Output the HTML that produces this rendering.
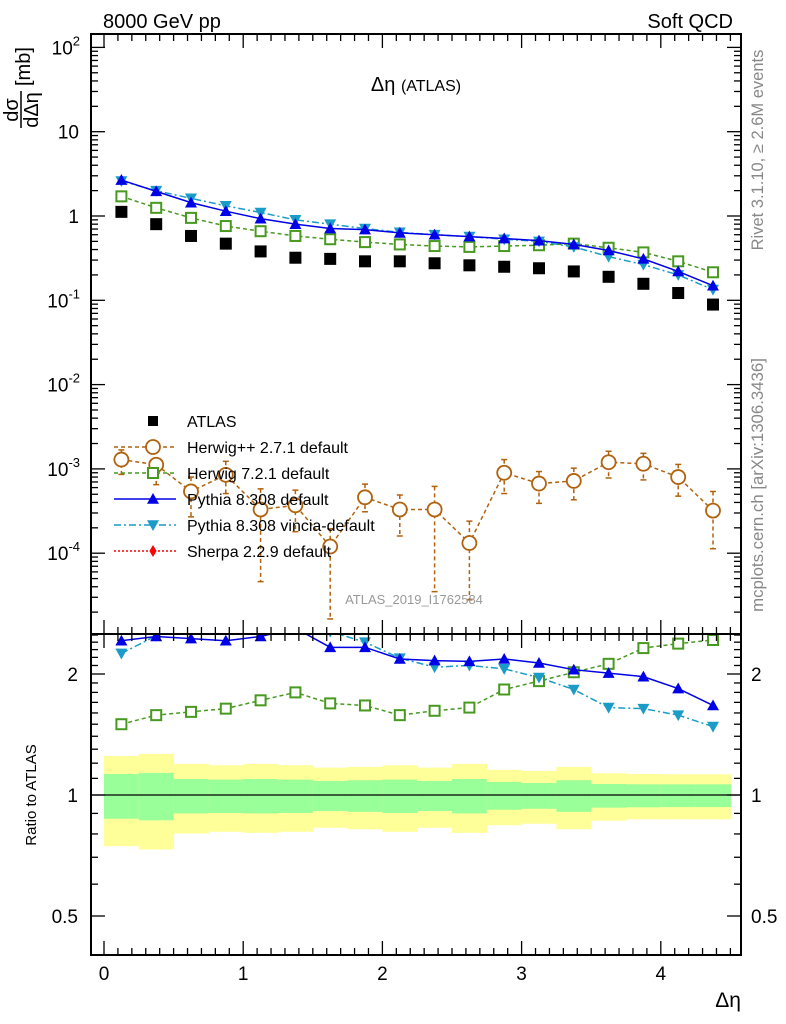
<!DOCTYPE html>
<html><head><meta charset="utf-8"><style>
html,body{margin:0;padding:0;background:#fff;}
svg{display:block;font-family:"Liberation Sans",sans-serif;}
</style></head><body>
<svg id="chart" width="786" height="1024" viewBox="0 0 786 1024" xmlns="http://www.w3.org/2000/svg">
<g id="bands"></g>
<g id="marks"></g>
<g id="axes"></g>
<text x="103" y="28" font-size="20">8000 GeV pp</text>
<text x="733" y="28" font-size="20" text-anchor="end">Soft QCD</text>
<text x="416" y="91" font-size="20" text-anchor="middle">Δη <tspan font-size="16">(ATLAS)</tspan></text>
<text x="414" y="604" font-size="13" fill="#999" text-anchor="middle">ATLAS_2019_I1762584</text>
<text transform="translate(763,150) rotate(-90)" font-size="16.5" fill="#888" text-anchor="middle">Rivet 3.1.10, ≥ 2.6M events</text>
<text transform="translate(763,485) rotate(-90)" font-size="16.8" fill="#888" text-anchor="middle">mcplots.cern.ch [arXiv:1306.3436]</text>
<g transform="translate(21,0) rotate(-90)">
<text x="-110" y="-3" font-size="20" text-anchor="middle">dσ</text>
<line x1="-128" x2="-91" y1="0" y2="0" stroke="#000" stroke-width="1.5"/>
<text x="-110" y="17" font-size="20" text-anchor="middle">dΔη</text>
<text x="-86" y="9" font-size="20">[mb]</text>
</g>
<text transform="translate(36,795) rotate(-90)" font-size="15" text-anchor="middle">Ratio to ATLAS</text>
<text x="741" y="1007" font-size="21" text-anchor="end">Δη</text>
<g id="legend"></g>
</svg>
<script>
const binCenters=[0.125,0.375,0.625,0.875,1.125,1.375,1.625,1.875,2.125,2.375,2.625,2.875,3.125,3.375,3.625,3.875,4.125,4.375];
const atlas=[1.12,0.80,0.58,0.47,0.38,0.32,0.31,0.29,0.29,0.275,0.26,0.25,0.24,0.22,0.19,0.157,0.122,0.089];
const pythia=[2.67,1.96,1.44,1.14,0.93,0.80,0.71,0.69,0.63,0.60,0.57,0.54,0.51,0.46,0.39,0.31,0.22,0.149];
const vincia=[2.6,2.0,1.62,1.32,1.10,0.90,0.80,0.71,0.64,0.60,0.57,0.53,0.50,0.43,0.33,0.265,0.20,0.134];
const herwig7=[1.71,1.25,0.95,0.76,0.66,0.58,0.53,0.49,0.46,0.44,0.43,0.44,0.45,0.47,0.42,0.37,0.29,0.215];
const herwigpp=[1.29e-3,1.12e-3,5.4e-4,8.5e-4,3.3e-4,3.7e-4,1.2e-4,4.6e-4,3.3e-4,3.3e-4,1.32e-4,9.0e-4,6.7e-4,7.2e-4,1.2e-3,1.15e-3,8.0e-4,3.2e-4];
const herwigppHi=[1.68e-3,1.28e-3,8.0e-4,1.23e-3,5.8e-4,5.6e-4,1.95e-4,6.6e-4,4.9e-4,6.2e-4,2.4e-4,1.29e-3,9.3e-4,1.02e-3,1.62e-3,1.53e-3,1.13e-3,5.4e-4];
const herwigppLo=[8.6e-4,6.5e-4,2.7e-4,5.1e-4,4.6e-5,1.8e-4,1.66e-5,3.1e-4,1.6e-4,3.5e-5,2.8e-5,5.1e-4,3.9e-4,4.3e-4,7.8e-4,7.4e-4,4.75e-4,1.13e-4];
const ratioPythia=[2.42,2.48,2.45,2.42,2.48,2.6,2.33,2.33,2.18,2.16,2.15,2.18,2.13,2.05,2.01,1.97,1.84,1.67];
const ratioVincia=[2.25,2.49,2.79,2.8,2.9,2.8,2.55,2.40,2.19,2.08,2.10,2.06,1.96,1.83,1.65,1.64,1.58,1.48];
const ratioHerwig7=[1.50,1.58,1.61,1.64,1.72,1.80,1.69,1.67,1.58,1.62,1.65,1.83,1.92,2.02,2.12,2.32,2.38,2.43];
const yellowHi=[1.25,1.266,1.195,1.186,1.195,1.186,1.17,1.175,1.186,1.17,1.195,1.155,1.148,1.175,1.133,1.128,1.126,1.126];
const yellowLo=[0.746,0.732,0.802,0.81,0.805,0.81,0.829,0.822,0.81,0.829,0.805,0.841,0.848,0.822,0.863,0.87,0.87,0.87];
const greenHi=[1.128,1.135,1.096,1.092,1.096,1.092,1.084,1.088,1.092,1.084,1.096,1.078,1.071,1.088,1.065,1.063,1.063,1.063];
const greenLo=[0.873,0.865,0.9,0.902,0.9,0.902,0.912,0.908,0.902,0.912,0.9,0.919,0.924,0.908,0.93,0.932,0.933,0.933];
const xTicks=[0,1,2,3,4];
const mainTicks=[-4,-3,-2,-1,0,1,2];
const mainTickLabels=["10","10","10","10","1","10","10"];
const ratioTicks=[0.5,1,2];
const ratioTickLabels=["0.5","1","2"];
const binWidth=0.25;

const NS="http://www.w3.org/2000/svg";
const L=91,R=741,T=34,MB=634,RB=955;
const X=v=>104+139.2*v;
const Y=v=>216-84.3*Math.log10(v);
const YR=v=>795-121*Math.log2(v);
function mk(tag,attrs,parent){const e=document.createElementNS(NS,tag);for(const k in attrs)e.setAttribute(k,attrs[k]);parent.appendChild(e);return e;}
const axes=document.getElementById('axes'),marks=document.getElementById('marks'),bands=document.getElementById('bands'),legend=document.getElementById('legend');

binCenters.forEach((c,i)=>{
 const x0=X(c-binWidth/2),x1=X(c+binWidth/2);
 let r=mk('rect',{x:x0,y:YR(yellowHi[i]),width:x1-x0+0.5,height:YR(yellowLo[i])-YR(yellowHi[i]),fill:'#ffff99'},bands);
 
 
 let g=mk('rect',{x:x0,y:YR(greenHi[i]),width:x1-x0+0.5,height:YR(greenLo[i])-YR(greenHi[i]),fill:'#99ff99'},bands);
 
 
});
mk('line',{x1:L,x2:R,y1:YR(1),y2:YR(1),stroke:'#000','stroke-width':1.3},bands);

mk('rect',{x:L,y:T,width:R-L,height:MB-T,fill:'none',stroke:'#000','stroke-width':2},axes);
mk('rect',{x:L,y:MB,width:R-L,height:RB-MB,fill:'none',stroke:'#000','stroke-width':2},axes);
for(let k=0;k<=45;k++){const v=k/10;const x=X(v);if(x>R-1)break;const maj=k%10===0;const len=maj?14:7;
 [[T,1],[MB,-1],[MB,1],[RB,-1]].forEach(([y,d])=>mk('line',{x1:x,x2:x,y1:y,y2:y+d*len,stroke:'#000','stroke-width':1.3},axes));}
xTicks.forEach(v=>{const t=mk('text',{x:X(v),y:980,'font-size':19,'text-anchor':'middle'},axes);t.textContent=v;
 
 });
for(let d=-5;d<=2;d++){for(let m=1;m<=9;m++){const v=m*Math.pow(10,d);const y=Y(v);if(y<T||y>MB)continue;const len=m===1?14:7;
 mk('line',{x1:L,x2:L+len,y1:y,y2:y,stroke:'#000','stroke-width':1.3},axes);mk('line',{x1:R,x2:R-len,y1:y,y2:y,stroke:'#000','stroke-width':1.3},axes);}}
mainTicks.forEach((e,i)=>{const y=Y(Math.pow(10,e));
 const t=mk('text',{x:(e===0||e===1)?79:80,y:y+7,'font-size':19,'text-anchor':'end'},axes);
 
 
 const a=mk('tspan',{},t);a.textContent=mainTickLabels[i];
 if(e!==0&&e!==1){const s=mk('tspan',{dy:-9,'font-size':13},t);s.textContent=e;}
});
[0.4,0.5,0.6,0.7,0.8,0.9,1,1.1,1.2,1.3,1.4,1.5,1.6,1.7,1.8,1.9,2,2.1,2.2,2.3,2.4,2.5].forEach(v=>{const y=YR(v);if(y<MB||y>RB)return;const len=(v===0.5||v===1||v===2)?14:7;
 mk('line',{x1:L,x2:L+len,y1:y,y2:y,stroke:'#000','stroke-width':1.3},axes);mk('line',{x1:R,x2:R-len,y1:y,y2:y,stroke:'#000','stroke-width':1.3},axes);});
ratioTicks.forEach((v,i)=>{[[78,'end'],[751,'start']].forEach(([x,a])=>{const t=mk('text',{x:x,y:YR(v)+7,'font-size':19,'text-anchor':a},axes);t.textContent=ratioTickLabels[i];
 
 });});

const defs=mk('defs',{},document.getElementById('chart'));
const c1=mk('clipPath',{id:'cm'},defs);mk('rect',{x:L,y:T,width:R-L,height:MB-T},c1);
const c2=mk('clipPath',{id:'cr'},defs);mk('rect',{x:L,y:MB,width:R-L,height:RB-MB},c2);
const gm=mk('g',{'clip-path':'url(#cm)'},marks),gr=mk('g',{'clip-path':'url(#cr)'},marks);

function marker(type,x,y,col,parent,s){
 s=s||6;
 if(type==='sq')return mk('rect',{x:x-s,y:y-s,width:2*s,height:2*s,fill:'#000'},parent);
 if(type==='osq')return mk('rect',{x:x-s+1,y:y-s+1,width:2*s-2,height:2*s-2,fill:'#fff',stroke:col,'stroke-width':2},parent);
 if(type==='oc')return mk('circle',{cx:x,cy:y,r:s+1,fill:'#fff',stroke:col,'stroke-width':1.8},parent);
 if(type==='tu')return mk('path',{d:`M${x-s} ${y+s*0.8}L${x+s} ${y+s*0.8}L${x} ${y-s}Z`,fill:col},parent);
 if(type==='td')return mk('path',{d:`M${x-s} ${y-s*0.8}L${x+s} ${y-s*0.8}L${x} ${y+s}Z`,fill:col},parent);
 if(type==='dm')return mk('path',{d:`M${x} ${y-s}L${x+s*0.6} ${y}L${x} ${y+s}L${x-s*0.6} ${y}Z`,fill:col},parent);
}
function series(vals,yf,parent,col,dash,type,name){
 const g=mk('g',{},parent);
 
 
 const pts=vals.map((v,i)=>X(binCenters[i])+','+yf(v)).join(' ');
 mk('polyline',{points:pts,fill:'none',stroke:col,'stroke-width':1.5,'stroke-dasharray':dash},g);
 vals.forEach((v,i)=>{const m=marker(type,X(binCenters[i]),yf(v),col,g);
  
  });
}
const cH7='#47991f',cHpp='#b0620e',cPy='#0000e6',cVi='#1a9bc8';
herwigpp.forEach((v,i)=>{const x=X(binCenters[i]);
 mk('line',{x1:x,x2:x,y1:Y(herwigppHi[i]),y2:Y(herwigppLo[i]),stroke:cHpp,'stroke-width':1.5,'stroke-dasharray':'4,3'},gm);
 [herwigppHi[i],herwigppLo[i]].forEach(b=>mk('line',{x1:x-3,x2:x+3,y1:Y(b),y2:Y(b),stroke:cHpp,'stroke-width':1.5},gm));});
series(herwigpp,Y,gm,cHpp,'4,3','oc','herwigpp-series');
series(herwig7,Y,gm,cH7,'4,3','osq','herwig7-series');
series(vincia,Y,gm,cVi,'7,3,2,3','td','vincia-series');
series(pythia,Y,gm,cPy,'','tu','pythia-series');
atlas.forEach((v,i)=>{const m=marker('sq',X(binCenters[i]),Y(v),'#000',gm);
 
 });
series(ratioHerwig7,YR,gr,cH7,'4,3','osq','herwig7-ratio');
series(ratioVincia,YR,gr,cVi,'7,3,2,3','td','vincia-ratio');
series(ratioPythia,YR,gr,cPy,'','tu','pythia-ratio');

const leg=[['ATLAS','sq','#000',null],['Herwig++ 2.7.1 default','oc',cHpp,'4,3'],['Herwig 7.2.1 default','osq',cH7,'4,3'],['Pythia 8.308 default','tu',cPy,''],['Pythia 8.308 vincia-default','td',cVi,'7,3,2,3'],['Sherpa 2.2.9 default','dm','#ff0000','2,2']];
leg.forEach((e,i)=>{const y=421+i*26;const g=mk('g',{},legend);
 
 
 if(e[3]!==null)mk('line',{x1:114,x2:176,y1:y,y2:y,stroke:e[2],'stroke-width':1.5,'stroke-dasharray':e[3]},g);
 marker(e[1],153,y,e[2],g,e[1]==='sq'?5:6);
 const t=mk('text',{x:187,y:y+6,'font-size':16},g);t.textContent=e[0];});
</script>
</body></html>
